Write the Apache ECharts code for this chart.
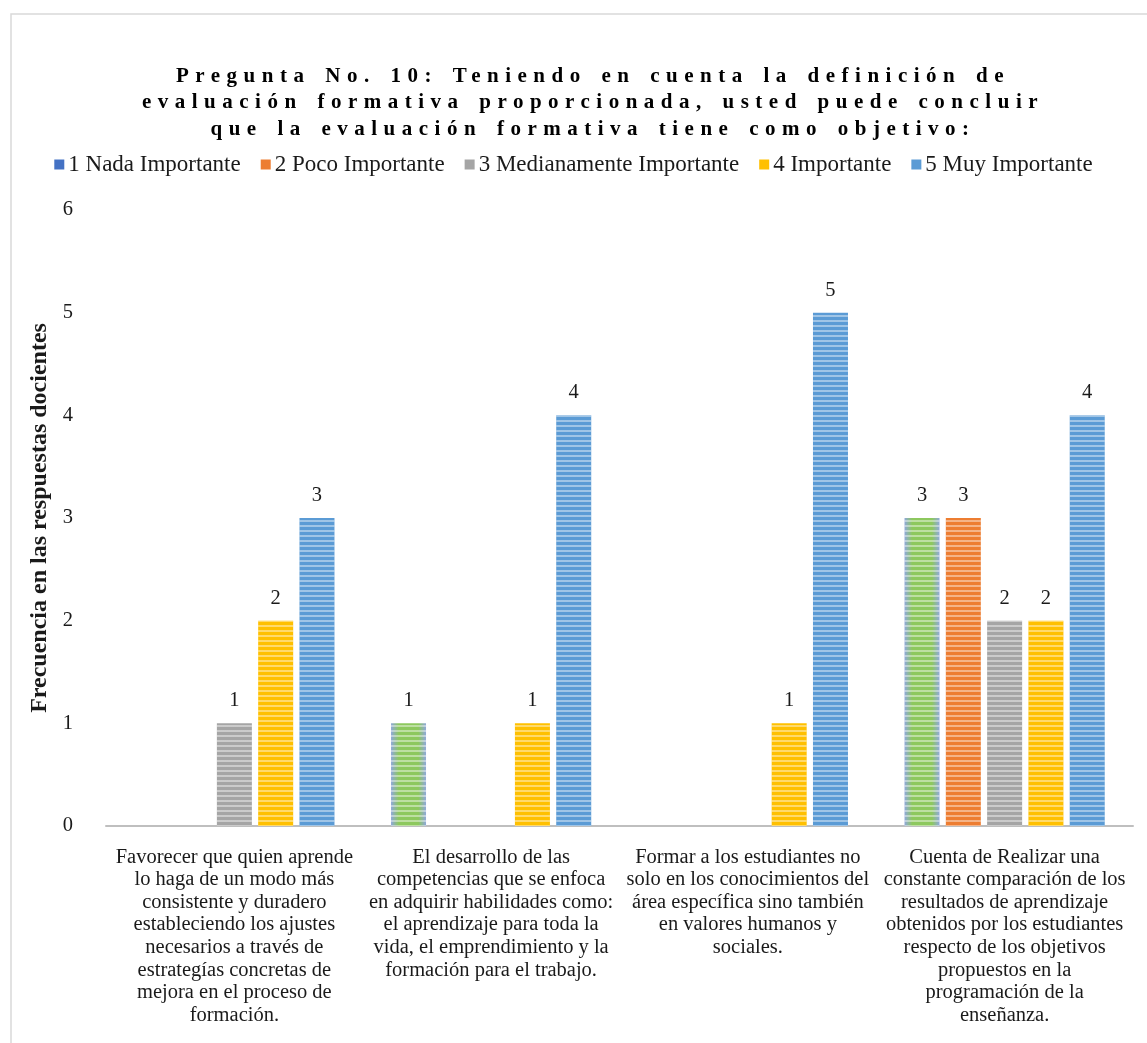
<!DOCTYPE html>
<html><head><meta charset="utf-8">
<script src="https://cdn.jsdelivr.net/npm/echarts@6/dist/echarts.min.js"></script>
<style>html,body{margin:0;padding:0;background:#fff}#c{width:1147px;height:1043px}</style>
</head><body><div id="c"></div>
<script>
const titleText = 'Pregunta No. 10: Teniendo en cuenta la definición de\nevaluación formativa proporcionada, usted puede concluir\nque la evaluación formativa tiene como objetivo:';
const yAxisName = 'Frecuencia en las respuestas docientes';
const categories = [
  'Favorecer que quien aprende\nlo haga de un modo más\nconsistente y duradero\nestableciendo los ajustes\nnecesarios a través de\nestrategías concretas de\nmejora en el proceso de\nformación.',
  'El desarrollo de las\ncompetencias que se enfoca\nen adquirir habilidades como:\nel aprendizaje para toda la\nvida, el emprendimiento y la\nformación para el trabajo.',
  'Formar a los estudiantes no\nsolo en los conocimientos del\nárea específica sino también\nen valores humanos y\nsociales.',
  'Cuenta de Realizar una\nconstante comparación de los\nresultados de aprendizaje\nobtenidos por los estudiantes\nrespecto de los objetivos\npropuestos en la\nprogramación de la\nenseñanza.'
];
const seriesNames = ['1 Nada Importante', '2 Poco Importante', '3 Medianamente Importante', '4 Importante', '5 Muy Importante'];
const nadaImportante = [0, 1, 0, 3];
const pocoImportante = [0, 0, 0, 3];
const medianamenteImportante = [1, 0, 0, 2];
const importante = [2, 1, 1, 2];
const muyImportante = [3, 4, 5, 4];
const yTicks = [0, 1, 2, 3, 4, 5, 6];

// letter spacing for the title (canvas letterSpacing / wordSpacing)
(function(){
  const proto = CanvasRenderingContext2D.prototype;
  const orig = proto.fillText;
  proto.fillText = function(t, x, y, m){
    if (this.font && this.font.indexOf('bold') >= 0 && this.font.indexOf('21px') >= 0 && 'letterSpacing' in this) {
      const prevL = this.letterSpacing, prevW = this.wordSpacing;
      this.letterSpacing = '6.5px';
      if ('wordSpacing' in this) this.wordSpacing = '3px';
      const r = m === undefined ? orig.call(this, t, x, y) : orig.call(this, t, x, y, m);
      this.letterSpacing = prevL;
      if ('wordSpacing' in this) this.wordSpacing = prevW;
      return r;
    }
    return m === undefined ? orig.call(this, t, x, y) : orig.call(this, t, x, y, m);
  };
})();

const FONT = "'Liberation Serif', 'Times New Roman', serif";
const FS = 20.5;
const dataSets = [nadaImportante, pocoImportante, medianamenteImportante, importante, muyImportante];
const barColors = [
  {type:'linear', x:0, y:0, x2:1, y2:0, colorStops:[{offset:0,color:'#8FA8DA'},{offset:0.22,color:'#8DC85E'},{offset:0.78,color:'#8DC85E'},{offset:1,color:'#8FA8DA'}]},
  '#ED7D31', '#A5A5A5', '#FFC000', '#5B9BD5'
];
const legendColors = ['#4472C4', '#ED7D31', '#A5A5A5', '#FFC000', '#5B9BD5'];
const decal = {symbol:'rect', symbolSize:1, dashArrayX:[4,0], dashArrayY:[2,3], color:'rgba(255,255,255,0.42)', rotation:0};

const chart = echarts.init(document.getElementById('c'), null, {renderer:'canvas'});
chart.setOption({
  animation: false,
  backgroundColor: '#fff',
  graphic: [{type:'rect', shape:{x:11, y:14, width:1200, height:1100}, style:{fill:'none', stroke:'#D9D9D9', lineWidth:1.5}, silent:true, z:-1}],
  title: {
    text: titleText, left: 588, top: 58, textAlign: 'center',
    textStyle: {fontFamily: FONT, fontWeight: 'bold', fontSize: 21, lineHeight: 26.5, color: '#000'}
  },
  legend: {
    top: 148, left: 'center', itemWidth: 10, itemHeight: 10, itemGap: 20,
    textStyle: {fontFamily: FONT, fontSize: 23, color: '#1a1a1a', padding: [0, 0, 0, -1]},
    data: seriesNames.map((n, i) => ({name: n, icon: 'rect', itemStyle: {color: legendColors[i], decal: 'none'}}))
  },
  grid: {left: 106, right: 14, top: 210, bottom: 217, containLabel: false},
  xAxis: {
    type: 'category', data: categories,
    axisLine: {lineStyle: {color: '#BFBFBF', width: 2}},
    axisTick: {show: false},
    axisLabel: {interval: 0, margin: 20, fontFamily: FONT, fontSize: FS, lineHeight: 22.6, color: '#1a1a1a', align: 'center'}
  },
  yAxis: {
    type: 'value', min: 0, max: 6, interval: 1,
    name: yAxisName, nameLocation: 'middle', nameGap: 47, nameRotate: 90,
    nameTextStyle: {fontFamily: FONT, fontSize: 24, fontWeight: 'bold', color: '#1a1a1a'},
    axisLine: {show: false}, axisTick: {show: false}, splitLine: {show: false},
    axisLabel: {margin: 33, fontFamily: FONT, fontSize: FS, color: '#1a1a1a',
      formatter: v => yTicks.indexOf(v) >= 0 ? String(v) : ''}
  },
  series: dataSets.map((d, i) => ({
    name: seriesNames[i], type: 'bar', data: d, barWidth: 35, barGap: '18%',
    itemStyle: {color: barColors[i], decal: decal},
    label: {show: true, position: 'top', distance: 12, fontFamily: FONT, fontSize: FS, color: '#1a1a1a',
      formatter: p => p.value === 0 ? '' : String(p.value)}
  }))
});
</script></body></html>
